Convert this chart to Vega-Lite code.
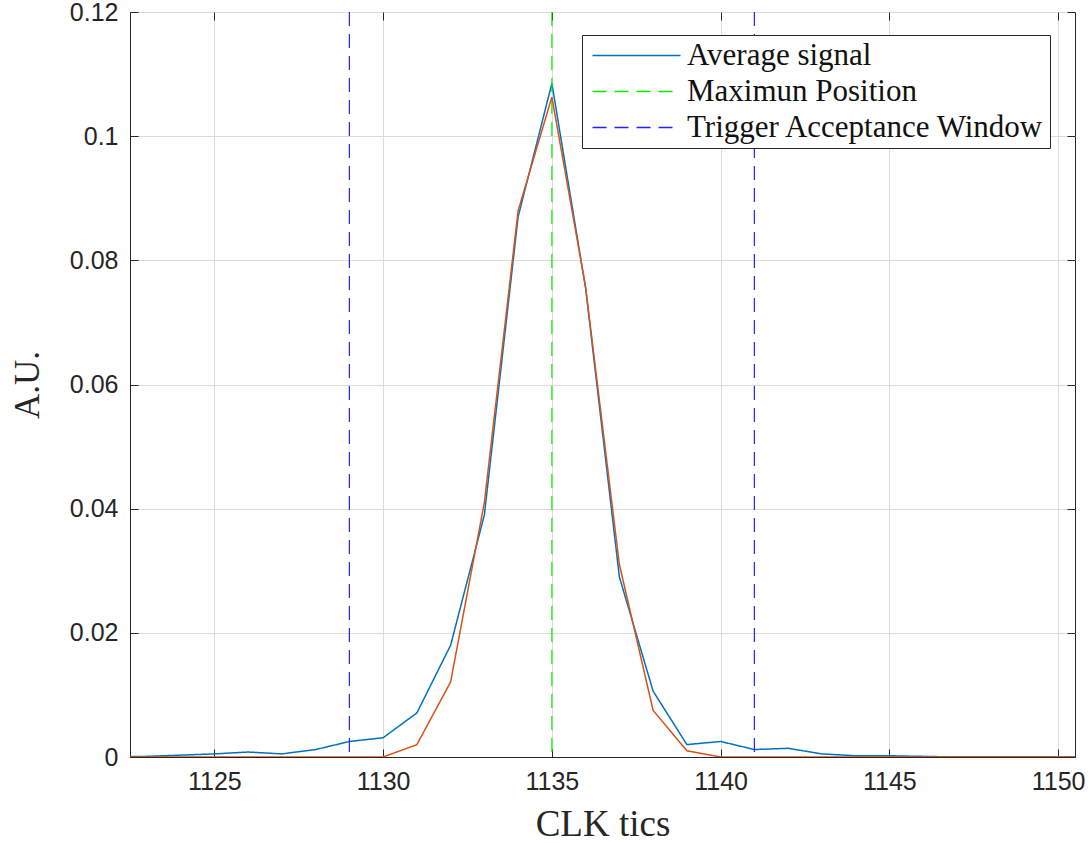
{
  "$schema": "https://vega.github.io/schema/vega-lite/v6.json",
  "width": 945,
  "height": 745,
  "autosize": "none",
  "padding": {"left": 130, "top": 12, "right": 16, "bottom": 86},
  "background": "white",
  "config": {
    "view": {"stroke": "#262626", "strokeWidth": 1},
    "axis": {
      "domainColor": "#262626",
      "tickColor": "#262626",
      "tickSize": -8,
      "labelFont": "Liberation Sans",
      "labelFontSize": 25,
      "labelColor": "#262626",
      "titleFont": "Liberation Serif",
      "titleFontWeight": "normal",
      "titleColor": "#262626",
      "gridColor": "#dcdcdc",
      "gridWidth": 1
    },
    "legend": {
      "orient": "none",
      "legendX": 452,
      "legendY": 23,
      "fillColor": "white",
      "strokeColor": "#262626",
      "padding": 5,
      "labelFont": "Liberation Serif",
      "labelFontSize": 31,
      "labelColor": "#111111",
      "labelLimit": 0,
      "symbolType": "M-4,0H4",
      "symbolSize": 484,
      "symbolStrokeWidth": 1.5,
      "symbolOffset": 34,
      "rowPadding": 4,
      "labelOffset": 35
    }
  },
  "datasets": {
    "sig": [
      {"t": 1122, "avg": 0.0001, "other": 0},
      {"t": 1123, "avg": 0.0001, "other": 0},
      {"t": 1124, "avg": 0.0003, "other": 0},
      {"t": 1125, "avg": 0.0005, "other": 0},
      {"t": 1126, "avg": 0.0008, "other": 0},
      {"t": 1127, "avg": 0.0005, "other": 0},
      {"t": 1128, "avg": 0.0012, "other": 0},
      {"t": 1129, "avg": 0.0025, "other": 0},
      {"t": 1130, "avg": 0.0031, "other": 0},
      {"t": 1131, "avg": 0.0071, "other": 0.002},
      {"t": 1132, "avg": 0.018, "other": 0.0121},
      {"t": 1133, "avg": 0.039, "other": 0.041},
      {"t": 1134, "avg": 0.087, "other": 0.088},
      {"t": 1135, "avg": 0.1085, "other": 0.1063},
      {"t": 1136, "avg": 0.0755, "other": 0.0757},
      {"t": 1137, "avg": 0.029, "other": 0.031},
      {"t": 1138, "avg": 0.0106, "other": 0.0075},
      {"t": 1139, "avg": 0.002, "other": 0.001},
      {"t": 1140, "avg": 0.0025, "other": 0},
      {"t": 1141, "avg": 0.0012, "other": 0},
      {"t": 1142, "avg": 0.0014, "other": 0},
      {"t": 1143, "avg": 0.0005, "other": 0},
      {"t": 1144, "avg": 0.0002, "other": 0},
      {"t": 1145, "avg": 0.0002, "other": 0},
      {"t": 1146, "avg": 0.0001, "other": 0},
      {"t": 1147, "avg": 0, "other": 0},
      {"t": 1148, "avg": 0, "other": 0},
      {"t": 1149, "avg": 0, "other": 0},
      {"t": 1150, "avg": 0, "other": 0},
      {"t": 1151, "avg": 0, "other": 0}
    ],
    "marks": [
      {"pos": 1135, "name": "Maximun Position"},
      {"pos": 1129, "name": "Trigger Acceptance Window"},
      {"pos": 1141, "name": "Trigger Acceptance Window"}
    ]
  },
  "resolve": {"axis": {"x": "independent", "y": "independent"}},
  "layer": [
    {
      "data": {"name": "sig"},
      "mark": {"type": "line", "clip": true, "strokeWidth": 1.5},
      "encoding": {
        "x": {
          "field": "t",
          "type": "quantitative",
          "scale": {"domain": [1122.5, 1150.5], "nice": false, "zero": false},
          "axis": {
            "title": "CLK tics",
            "titleFontSize": 37,
            "titlePadding": 12,
            "values": [1125, 1130, 1135, 1140, 1145, 1150],
            "format": "d",
            "grid": true,
            "labelPadding": 20,
            "labelFlush": false
          }
        },
        "y": {
          "field": "avg",
          "type": "quantitative",
          "scale": {"domain": [0, 0.12], "nice": false},
          "axis": {
            "title": "A.U.",
            "titleFontSize": 35,
            "titlePadding": 24,
            "values": [0, 0.02, 0.04, 0.06, 0.08, 0.1, 0.12],
            "labelExpr": "format(datum.value, '.2~f')",
            "grid": true,
            "labelPadding": 20,
            "labelFlush": false
          }
        },
        "color": {
          "datum": "Average signal",
          "type": "nominal",
          "scale": {
            "domain": ["Average signal", "Maximun Position", "Trigger Acceptance Window"],
            "range": ["#0072BD", "#00EE00", "#2222FF"]
          },
          "legend": {"title": null}
        },
        "strokeDash": {
          "datum": "Average signal",
          "type": "nominal",
          "scale": {
            "domain": ["Average signal", "Maximun Position", "Trigger Acceptance Window"],
            "range": [[1, 0], [14, 8], [14, 8]]
          },
          "legend": {"title": null}
        }
      }
    },
    {
      "data": {"name": "marks"},
      "mark": {"type": "rule", "strokeWidth": 1.2},
      "encoding": {
        "x": {"field": "pos", "type": "quantitative", "axis": null},
        "color": {"field": "name", "type": "nominal", "legend": {"title": null}},
        "strokeDash": {"field": "name", "type": "nominal", "legend": {"title": null}}
      }
    },
    {
      "data": {"name": "sig"},
      "mark": {"type": "line", "clip": true, "strokeWidth": 1.5, "color": "#D95319"},
      "encoding": {
        "x": {
          "field": "t",
          "type": "quantitative",
          "axis": {
            "orient": "top",
            "title": null,
            "labels": false,
            "grid": false,
            "domain": false,
            "values": [1125, 1130, 1135, 1140, 1145, 1150]
          }
        },
        "y": {
          "field": "other",
          "type": "quantitative",
          "axis": {
            "orient": "right",
            "title": null,
            "labels": false,
            "grid": false,
            "domain": false,
            "values": [0, 0.02, 0.04, 0.06, 0.08, 0.1, 0.12]
          }
        }
      }
    }
  ]
}
